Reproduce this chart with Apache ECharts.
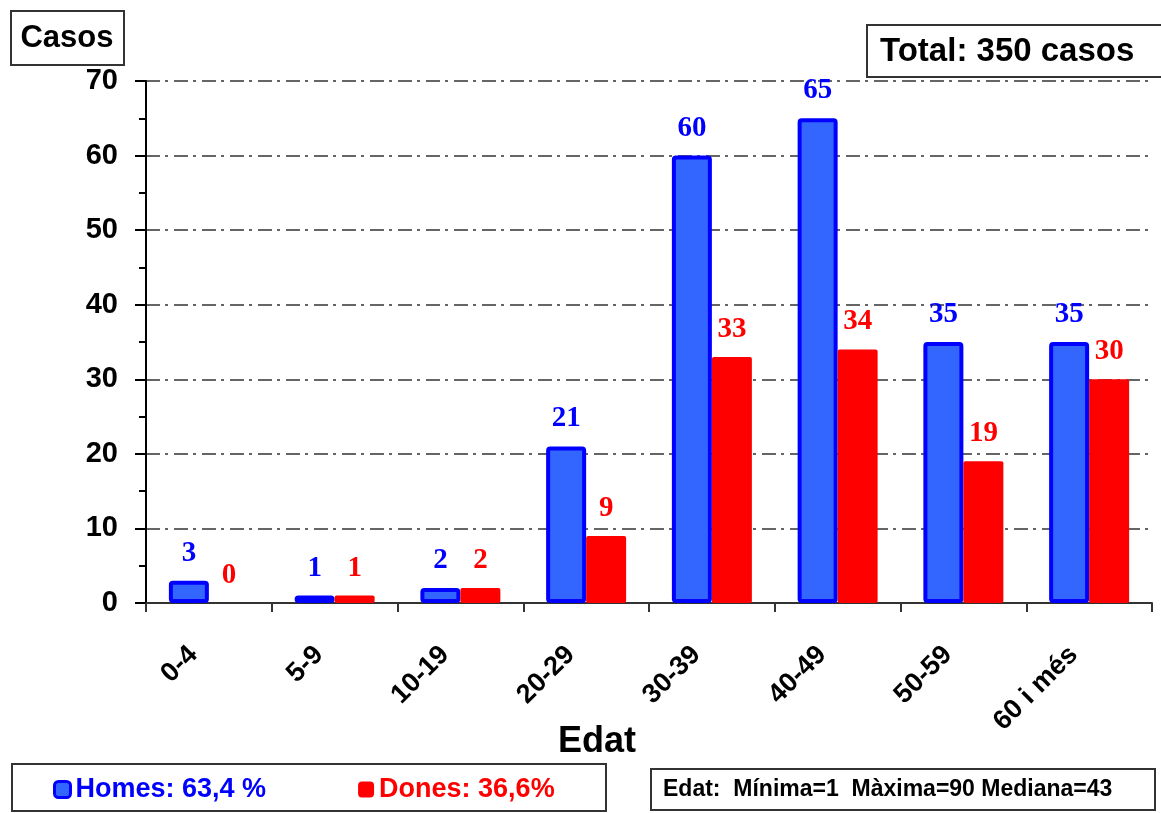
<!DOCTYPE html>
<html>
<head>
<meta charset="utf-8">
<script src="https://cdn.jsdelivr.net/npm/echarts@6/dist/echarts.min.js"></script>
<style>
html,body{margin:0;padding:0;background:#fff;}
#chart{width:1161px;height:813px;}
</style>
</head>
<body>
<div id="chart"></div>
<script>
var edats=['0-4','5-9','10-19','20-29','30-39','40-49','50-59','60 i més'];
var homes=[3,1,2,21,60,65,35,35];
var dones=[0,1,2,9,33,34,19,30];
var legendText={'Homes':'Homes: 63,4 %','Dones':'Dones: 36,6%'};
var yTicks=[0,10,20,30,40,50,60,70];

var sans='"Liberation Sans", Arial, sans-serif';
var serif='"Liberation Serif", "Times New Roman", serif';

var myChart=echarts.init(document.getElementById('chart'),null,{renderer:'canvas'}),option;
option={
    backgroundColor:'#fff',
    animation:false,
    grid:{left:146,right:9,top:81,bottom:210,containLabel:false},
    legend:{
        left:53,
        top:776,
        padding:0,
        itemWidth:16,
        itemHeight:16,
        itemGap:92,
        selectedMode:false,
        icon:'roundRect',
        formatter:function(name){return legendText[name];},
        data:[
            {name:'Homes',textStyle:{color:'#0000ff'},itemStyle:{color:'#3366ff',borderColor:'#0000ff',borderWidth:3}},
            {name:'Dones',textStyle:{color:'#ff0000'},itemStyle:{color:'#ff0000',borderWidth:0}}
        ],
        textStyle:{fontFamily:sans,fontWeight:'bold',fontSize:27}
    },
    xAxis:[{
        type:'category',
        data:edats,
        axisLine:{lineStyle:{color:'#333',width:2}},
        axisTick:{show:true,length:9,lineStyle:{color:'#333',width:2}},
        axisLabel:{
            interval:0,
            rotate:45,
            margin:32,
            padding:[0,22,0,0],
            color:'#000',
            fontFamily:sans,
            fontWeight:'bold',
            fontSize:27
        },
        splitLine:{show:false}
    }],
    yAxis:[{
        type:'value',
        min:yTicks[0],
        max:yTicks[yTicks.length-1],
        interval:10,
        axisLine:{show:true,lineStyle:{color:'#000',width:2}},
        axisTick:{show:true,length:11,lineStyle:{color:'#000',width:2}},
        minorTick:{show:true,splitNumber:2,length:7,lineStyle:{color:'#000',width:2}},
        axisLabel:{margin:28,color:'#000',fontFamily:sans,fontWeight:'bold',fontSize:29},
        splitLine:{show:true,lineStyle:{color:'#333',width:1.5,type:[14,5,3,6]}}
    }],
    series:[
        {
            name:'Homes',
            type:'bar',
            barWidth:40,
            barGap:'0%',
            data:homes,
            itemStyle:{color:'#3366ff',borderColor:'#0000ff',borderWidth:4,borderRadius:2},
            label:{show:true,position:'top',distance:13,color:'#0000ff',fontFamily:serif,fontWeight:'bold',fontSize:29}
        },
        {
            name:'Dones',
            type:'bar',
            barWidth:40,
            data:dones,
            itemStyle:{color:'#ff0000',borderRadius:2},
            label:{show:true,position:'top',distance:13,color:'#ff0000',fontFamily:serif,fontWeight:'bold',fontSize:29}
        }
    ],
    graphic:[
        // caixa "Casos"
        {type:'rect',shape:{x:11,y:11,width:113,height:54},style:{fill:'#fff',stroke:'#333',lineWidth:2}},
        {type:'text',x:67,y:38,style:{text:'Casos',fill:'#000',font:'bold 31px '+sans,textAlign:'center',textVerticalAlign:'middle'}},
        // total
        {type:'rect',shape:{x:867,y:25,width:300,height:52},style:{fill:'#fff',stroke:'#333',lineWidth:2}},
        {type:'text',x:880,y:52,style:{text:'Total: 350 casos',fill:'#000',font:'bold 33px '+sans,textAlign:'left',textVerticalAlign:'middle'}},
        // nom eix x
        {type:'text',x:597,y:742,style:{text:'Edat',fill:'#000',font:'bold 36px '+sans,textAlign:'center',textVerticalAlign:'middle'}},
        // caixa llegenda
        {type:'rect',z:-1,shape:{x:12,y:764,width:594,height:47},style:{fill:'#fff',stroke:'#333',lineWidth:2}},
        // caixa edat
        {type:'rect',shape:{x:651,y:769,width:504,height:41},style:{fill:'#fff',stroke:'#333',lineWidth:2}},
        {type:'text',x:663,y:790,style:{text:'Edat:  Mínima=1  Màxima=90 Mediana=43',fill:'#000',font:'bold 23px '+sans,textAlign:'left',textVerticalAlign:'middle'}}
    ]
};
myChart.setOption(option);
</script>
</body>
</html>
